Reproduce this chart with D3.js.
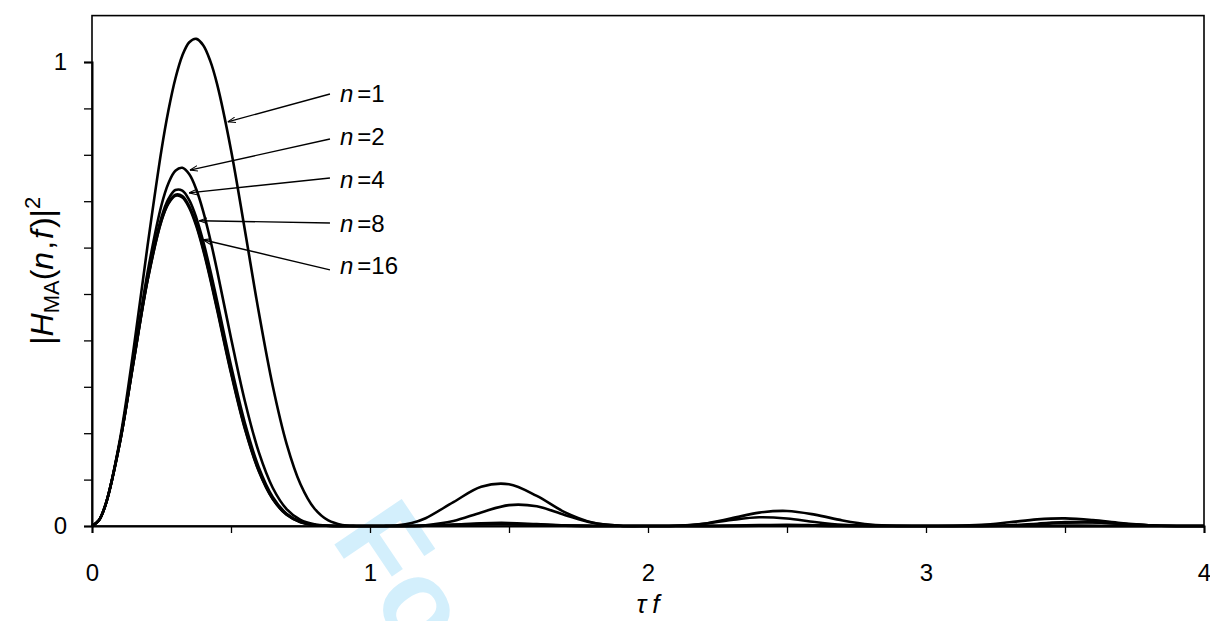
<!DOCTYPE html>
<html>
<head>
<meta charset="utf-8">
<script src="https://cdn.jsdelivr.net/npm/d3@7"></script>
<style>
  body { margin: 0; background: #fff; }
  svg { display: block; }
  text { font-family: Arial, "Liberation Sans", sans-serif; fill: #000; }
</style>
</head>
<body>
<svg id="chart" width="1210" height="621"></svg>
<script>
// Normalised frequency τf at which the response was sampled
const tauF = [0, 0.025, 0.05, 0.1, 0.15, 0.2, 0.25, 0.275, 0.3, 0.325, 0.35, 0.375, 0.4, 0.425, 0.45, 0.5,
  0.55, 0.6, 0.65, 0.7, 0.75, 0.8, 0.85, 0.9, 0.95, 1, 1.05, 1.1, 1.15, 1.2,
  1.3, 1.4, 1.5, 1.6, 1.7, 1.8, 1.9, 2, 2.1, 2.2, 2.3, 2.4, 2.5, 2.6, 2.7, 2.8, 2.9,
  3, 3.1, 3.2, 3.3, 3.4, 3.5, 3.6, 3.7, 3.8, 3.9, 4];

// |H_MA(n,f)|² for each averaging factor n
const hN1 = [0, .0123, .0485, .1848, .3826, .6047, .8106, .8959, .9645, 1.0140, 1.0426, 1.0499, 1.0362, 1.0029, .9523, .8106,
  .6375, .4605, .3023, .1772, .0901, .0378, .0119, .0023, .0001, 0, .0001, .0015, .0065, .0168,
  .0514, .0846, .0901, .0648, .0300, .0075, .0005, 0, .0004, .0050, .0164, .0288, .0324, .0245, .0119, .0031, .0002,
  0, .0002, .0024, .0080, .0143, .0165, .0128, .0063, .0017, .0001, 0];
const hN2 = [0, .0123, .0482, .1803, .3618, .5470, .6919, .7389, .7657, .7720, .7580, .7258, .6782, .6185, .5507, .4053,
  .2689, .1591, .0825, .0365, .0132, .0036, .0006, .0001, 0, 0, 0, 0, .0004, .0016,
  .0106, .0292, .0450, .0424, .0238, .0068, .0005, 0, .0004, .0045, .0130, .0188, .0162, .0085, .0025, .0003, 0,
  0, 0, .0002, .0016, .0050, .0083, .0084, .0050, .0015, .0001, 0];
const hN4 = [0, .0123, .0482, .1792, .3568, .5336, .6655, .7049, .7240, .7228, .7021, .6647, .6134, .5522, .4847, .3459,
  .2218, .1263, .0628, .0265, .0091, .0024, .0004, 0, 0, 0, 0, 0, .0001, .0006,
  .0029, .0060, .0066, .0040, .0013, .0002, 0, 0, 0, .0001, .0007, .0018, .0024, .0017, .0007, .0001, 0,
  0, 0, .0001, .0012, .0039, .0071, .0076, .0048, .0015, .0001, 0];
const hN8 = [0, .0123, .0482, .1789, .3555, .5303, .6591, .6967, .7140, .7111, .6889, .6503, .5984, .5369, .4697, .3328,
  .2116, .1194, .0588, .0246, .0084, .0021, .0004, 0, 0, 0, 0, 0, .0001, .0004,
  .0022, .0044, .0046, .0026, .0008, .0001, 0, 0, 0, 0, .0003, .0006, .0007, .0005, .0002, 0, 0,
  0, 0, 0, .0001, .0002, .0003, .0002, .0001, 0, 0, 0];
const hN16 = [0, .0123, .0481, .1788, .3552, .5295, .6575, .6947, .7115, .7082, .6857, .6468, .5947, .5332, .4661, .3296,
  .2091, .1178, .0579, .0241, .0082, .0021, .0003, 0, 0, 0, 0, 0, .0001, .0004,
  .0021, .0041, .0042, .0024, .0007, .0001, 0, 0, 0, 0, .0002, .0005, .0006, .0004, .0001, 0, 0,
  0, 0, 0, .0001, .0001, .0002, .0001, 0, 0, 0, 0];

const nValues = [1, 2, 4, 8, 16];
const seriesValues = [hN1, hN2, hN4, hN8, hN16];

// Label annotations (data units): text baseline, arrow start and arrow tip
const labelAt = [[0.892, 0.914], [0.892, 0.821], [0.892, 0.728], [0.892, 0.634], [0.892, 0.543]];
const arrowFrom = [[0.856, 0.931], [0.856, 0.834], [0.856, 0.750], [0.856, 0.653], [0.856, 0.552]];
const arrowTip = [[0.488, 0.871], [0.352, 0.767], [0.349, 0.718], [0.385, 0.658], [0.399, 0.617]];

const xTicks = [0, 0.5, 1, 1.5, 2, 2.5, 3, 3.5, 4];
const xTickLabels = [0, 1, 2, 3, 4];
const yTicks = [0, 0.1, 0.2, 0.3, 0.4, 0.5, 0.6, 0.7, 0.8, 0.9, 1];
const yTickLabels = [0, 1];

const svg = d3.select("#chart");
const x = d3.scaleLinear().domain([0, 4]).range([92, 1204]);
const y = d3.scaleLinear().domain([0, 1]).range([526, 62]);
const yTop = 1.1;

// Review watermark, sitting behind the plot
svg.append("text")
  .attr("transform", "translate(330,538) rotate(56)")
  .attr("font-size", 118)
  .attr("font-weight", "bold")
  .style("fill", "#d3effc")
  .text("For Review Only");

// Arrowhead for the label leaders
svg.append("defs").append("marker")
  .attr("id", "arrowhead")
  .attr("viewBox", "0 0 10 10")
  .attr("refX", 10).attr("refY", 5)
  .attr("markerWidth", 8).attr("markerHeight", 8)
  .attr("markerUnits", "userSpaceOnUse")
  .attr("orient", "auto")
  .append("path")
  .attr("d", "M0,1.5 L10,5 L0,8.5")
  .attr("fill", "none").attr("stroke", "#000").attr("stroke-width", 1.3);

// Plot frame
svg.append("rect")
  .attr("x", x(0)).attr("y", y(yTop))
  .attr("width", x(4) - x(0)).attr("height", y(0) - y(yTop))
  .attr("fill", "none").attr("stroke", "#000").attr("stroke-width", 1.6);

// Axes
const xAxis = d3.axisBottom(x).tickValues(xTicks).tickSize(7).tickPadding(31)
  .tickFormat(d => xTickLabels.includes(d) ? d3.format("d")(d) : "");
const yAxis = d3.axisLeft(y).tickValues(yTicks).tickSize(8).tickPadding(17)
  .tickFormat(d => yTickLabels.includes(d) ? d3.format("d")(d) : "");

const gx = svg.append("g").attr("transform", `translate(0,${y(0)})`).call(xAxis);
const gy = svg.append("g").attr("transform", `translate(${x(0)},0)`).call(yAxis);
[gx, gy].forEach(g => {
  g.select(".domain").attr("stroke-width", 2);
  g.selectAll(".tick line").attr("stroke-width", 1.3);
  g.selectAll(".tick text").attr("font-size", 24).attr("font-family", "Arial, 'Liberation Sans', sans-serif");
});

// Response curves
const line = d3.line()
  .x((d, i) => x(tauF[i]))
  .y(d => y(d))
  .curve(d3.curveCatmullRom);

svg.append("g").selectAll("path")
  .data(seriesValues)
  .join("path")
  .attr("d", line)
  .attr("fill", "none")
  .attr("stroke", "#000")
  .attr("stroke-width", 2.6)
  .attr("stroke-linejoin", "round");

// Labels with leader arrows
const ann = svg.append("g");
nValues.forEach((n, i) => {
  ann.append("line")
    .attr("x1", x(arrowFrom[i][0])).attr("y1", y(arrowFrom[i][1]))
    .attr("x2", x(arrowTip[i][0])).attr("y2", y(arrowTip[i][1]))
    .attr("stroke", "#000").attr("stroke-width", 1.4)
    .attr("marker-end", "url(#arrowhead)");
  const t = ann.append("text")
    .attr("x", x(labelAt[i][0])).attr("y", y(labelAt[i][1]))
    .attr("font-size", 24);
  t.append("tspan").attr("font-style", "italic").text("n");
  t.append("tspan").attr("dx", 4).text("=" + n);
});

// Axis titles
const yTitle = svg.append("text")
  .attr("transform", `translate(53,${(y(0) + y(yTop)) / 2}) rotate(-90)`)
  .attr("text-anchor", "middle")
  .attr("font-size", 32);
yTitle.append("tspan").text("|");
yTitle.append("tspan").attr("font-style", "italic").text("H");
yTitle.append("tspan").attr("font-size", 22).attr("dy", 6).text("MA");
yTitle.append("tspan").attr("dy", -6).text("(");
yTitle.append("tspan").attr("font-style", "italic").text("n");
yTitle.append("tspan").attr("dx", 2).text(",");
yTitle.append("tspan").attr("dx", 2).attr("font-style", "italic").text("f");
yTitle.append("tspan").attr("dx", 2).text(")|");
yTitle.append("tspan").attr("font-size", 22).attr("dy", -13).text("2");

const xTitle = svg.append("text")
  .attr("x", x(2)).attr("y", 613)
  .attr("text-anchor", "middle")
  .attr("font-size", 26);
xTitle.append("tspan").attr("font-style", "italic").text("τ");
xTitle.append("tspan").attr("dx", 6).attr("font-style", "italic").text("f");
</script>
</body>
</html>
